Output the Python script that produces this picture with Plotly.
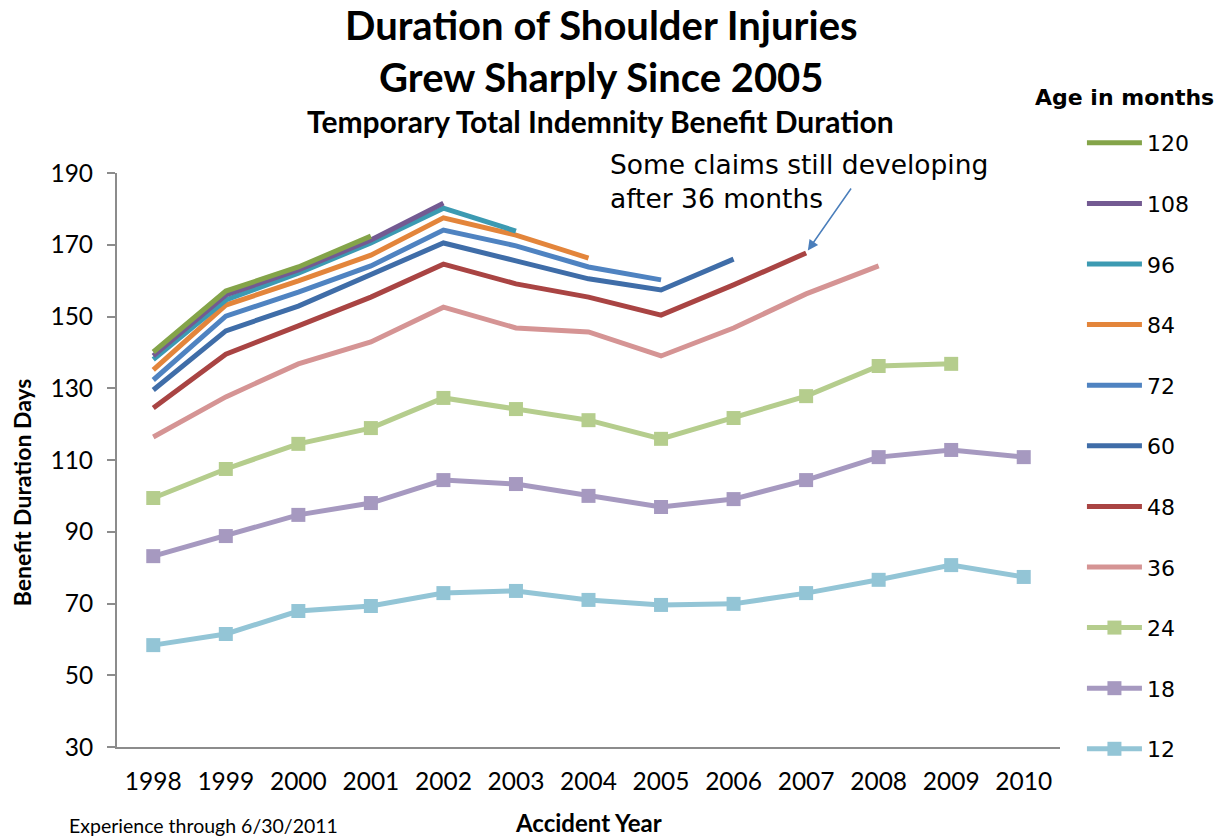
import plotly.graph_objects as go

# accident years on the x axis
years = [1998, 1999, 2000, 2001, 2002, 2003, 2004, 2005, 2006, 2007, 2008, 2009, 2010]

# benefit duration days by age of claim (months); later years are not yet mature
dur_120 = [140.1, 157.1, 163.8, 172.4]
dur_108 = [139.0, 156.0, 163.0, 171.3, 181.6]
dur_96 = [138.0, 154.6, 162.1, 170.5, 180.2, 173.8]
dur_84 = [135.1, 153.2, 159.9, 167.1, 177.5, 172.7, 166.3]
dur_72 = [132.3, 150.1, 156.8, 164.1, 174.1, 169.7, 163.8, 160.2]
dur_60 = [129.5, 146.0, 152.9, 161.6, 170.5, 165.5, 160.5, 157.4, 166.0]
dur_48 = [124.5, 139.5, 147.4, 155.4, 164.6, 159.1, 155.4, 150.4, 158.8, 167.7]
dur_36 = [116.4, 127.6, 136.8, 142.9, 152.6, 146.8, 145.7, 139.0, 146.8, 156.3, 164.1]
dur_24 = [99.4, 107.5, 114.5, 118.9, 127.3, 124.2, 121.1, 115.9, 121.7, 127.8, 136.2, 136.8]
dur_18 = [83.2, 88.8, 94.7, 98.0, 104.4, 103.3, 100.0, 96.9, 99.1, 104.4, 110.8, 112.8, 110.8]
dur_12 = [58.4, 61.5, 67.9, 69.3, 72.9, 73.5, 71.0, 69.6, 69.9, 72.9, 76.6, 80.7, 77.4]

y_ticks = [30, 50, 70, 90, 110, 130, 150, 170, 190]

# (label, values, colour, markers?) drawn bottom-up so the older ages sit on top
series = [
    ("12", dur_12, "#93C5D6", True),
    ("18", dur_18, "#A699C0", True),
    ("24", dur_24, "#B5CD8D", True),
    ("36", dur_36, "#D59494", False),
    ("48", dur_48, "#A94443", False),
    ("60", dur_60, "#3F6DA8", False),
    ("72", dur_72, "#4F83C1", False),
    ("84", dur_84, "#E3853B", False),
    ("96", dur_96, "#3C9AB2", False),
    ("108", dur_108, "#735A92", False),
    ("120", dur_120, "#84A449", False),
]

CAL = "Lato, 'Open Sans', sans-serif"
VER = "'DejaVu Sans', Verdana, sans-serif"

fig = go.Figure()
for i, (name, vals, color, has_marker) in enumerate(series):
    fig.add_trace(go.Scatter(
        x=years[:len(vals)],
        y=vals,
        name=name,
        legendgroup=name,
        legendrank=100 - i,
        mode="lines+markers" if has_marker else "lines",
        line=dict(color=color, width=5),
        marker=dict(symbol="square", size=14, color=color),
    ))

# page body adds ~8px of margin, so the figure is sized 8px short of the window
fig.update_layout(
    width=1219,
    height=832,
    paper_bgcolor="white",
    plot_bgcolor="white",
    margin=dict(l=109, r=167, t=165, b=93, autoexpand=False),
    showlegend=True,
    legend=dict(
        xref="container", yref="container",
        x=0.881, y=0.863, xanchor="left", yanchor="top",
        traceorder="grouped",
        tracegroupgap=29,
        itemwidth=55,
        maxheight=760,
        font=dict(family=VER, size=22, color="black"),
        bgcolor="rgba(0,0,0,0)",
    ),
    xaxis=dict(
        range=[1997.5, 2010.5],
        tickvals=years,
        ticktext=[str(y) for y in years],
        showgrid=False,
        zeroline=False,
        showline=True,
        linecolor="#8C8C8C",
        linewidth=2,
        ticks="",
        ticklabelstandoff=12,
        tickfont=dict(family=CAL, size=24.5, color="black"),
    ),
    yaxis=dict(
        range=[30, 190],
        tickvals=y_ticks,
        showgrid=False,
        zeroline=False,
        showline=True,
        linecolor="#8C8C8C",
        linewidth=2,
        ticks="outside",
        ticklen=8,
        tickcolor="#8C8C8C",
        tickwidth=2,
        ticklabelstandoff=9,
        tickfont=dict(family=CAL, size=24.5, color="black"),
    ),
)

# titles
fig.add_annotation(
    text="<b>Duration of Shoulder Injuries<br>Grew Sharply Since 2005</b>",
    xref="paper", yref="paper", x=0.514, y=1.2125, xanchor="center", yanchor="middle",
    showarrow=False, font=dict(family=CAL, size=40, color="black"),
)
fig.add_annotation(
    text="<b>Temporary Total Indemnity Benefit Duration</b>",
    xref="paper", yref="paper", x=0.513, y=1.0905, xanchor="center", yanchor="middle",
    showarrow=False, font=dict(family=CAL, size=30, color="black"),
)
fig.add_annotation(
    text="<b>Age in months</b>",
    xref="paper", yref="paper", x=1.068, y=1.1307, xanchor="center", yanchor="middle",
    showarrow=False, font=dict(family=VER, size=22, color="black"),
)
fig.add_annotation(
    text="<b>Benefit Duration Days</b>",
    xref="paper", yref="paper", x=-0.1007, y=0.444, xanchor="center", yanchor="middle",
    textangle=-90, showarrow=False, font=dict(family=CAL, size=23, color="black"),
)
fig.add_annotation(
    text="<b>Accident Year</b>",
    xref="paper", yref="paper", x=0.4995, y=-0.1324, xanchor="center", yanchor="middle",
    showarrow=False, font=dict(family=CAL, size=24, color="black"),
)
fig.add_annotation(
    text="Experience through 6/30/2011",
    xref="paper", yref="paper", x=-0.053, y=-0.1376, xanchor="left", yanchor="middle",
    showarrow=False, font=dict(family=CAL, size=19.5, color="black"),
)

# callout on the 48-month series
fig.add_annotation(
    text="Some claims still developing<br>after 36 months",
    xref="paper", yref="paper", x=0.5207, y=0.986, xanchor="left", yanchor="middle",
    align="left", showarrow=False, font=dict(family=VER, size=26.5, color="black"),
)
fig.add_annotation(
    x=2007, y=dur_48[years.index(2007)], xref="x", yref="y",
    ax=46, ay=-66, axref="pixel", ayref="pixel",
    text="", showarrow=True, arrowhead=2, arrowsize=1.4, arrowwidth=1.5,
    arrowcolor="#4A7EBB", standoff=3,
)

fig.write_html("out.html")
